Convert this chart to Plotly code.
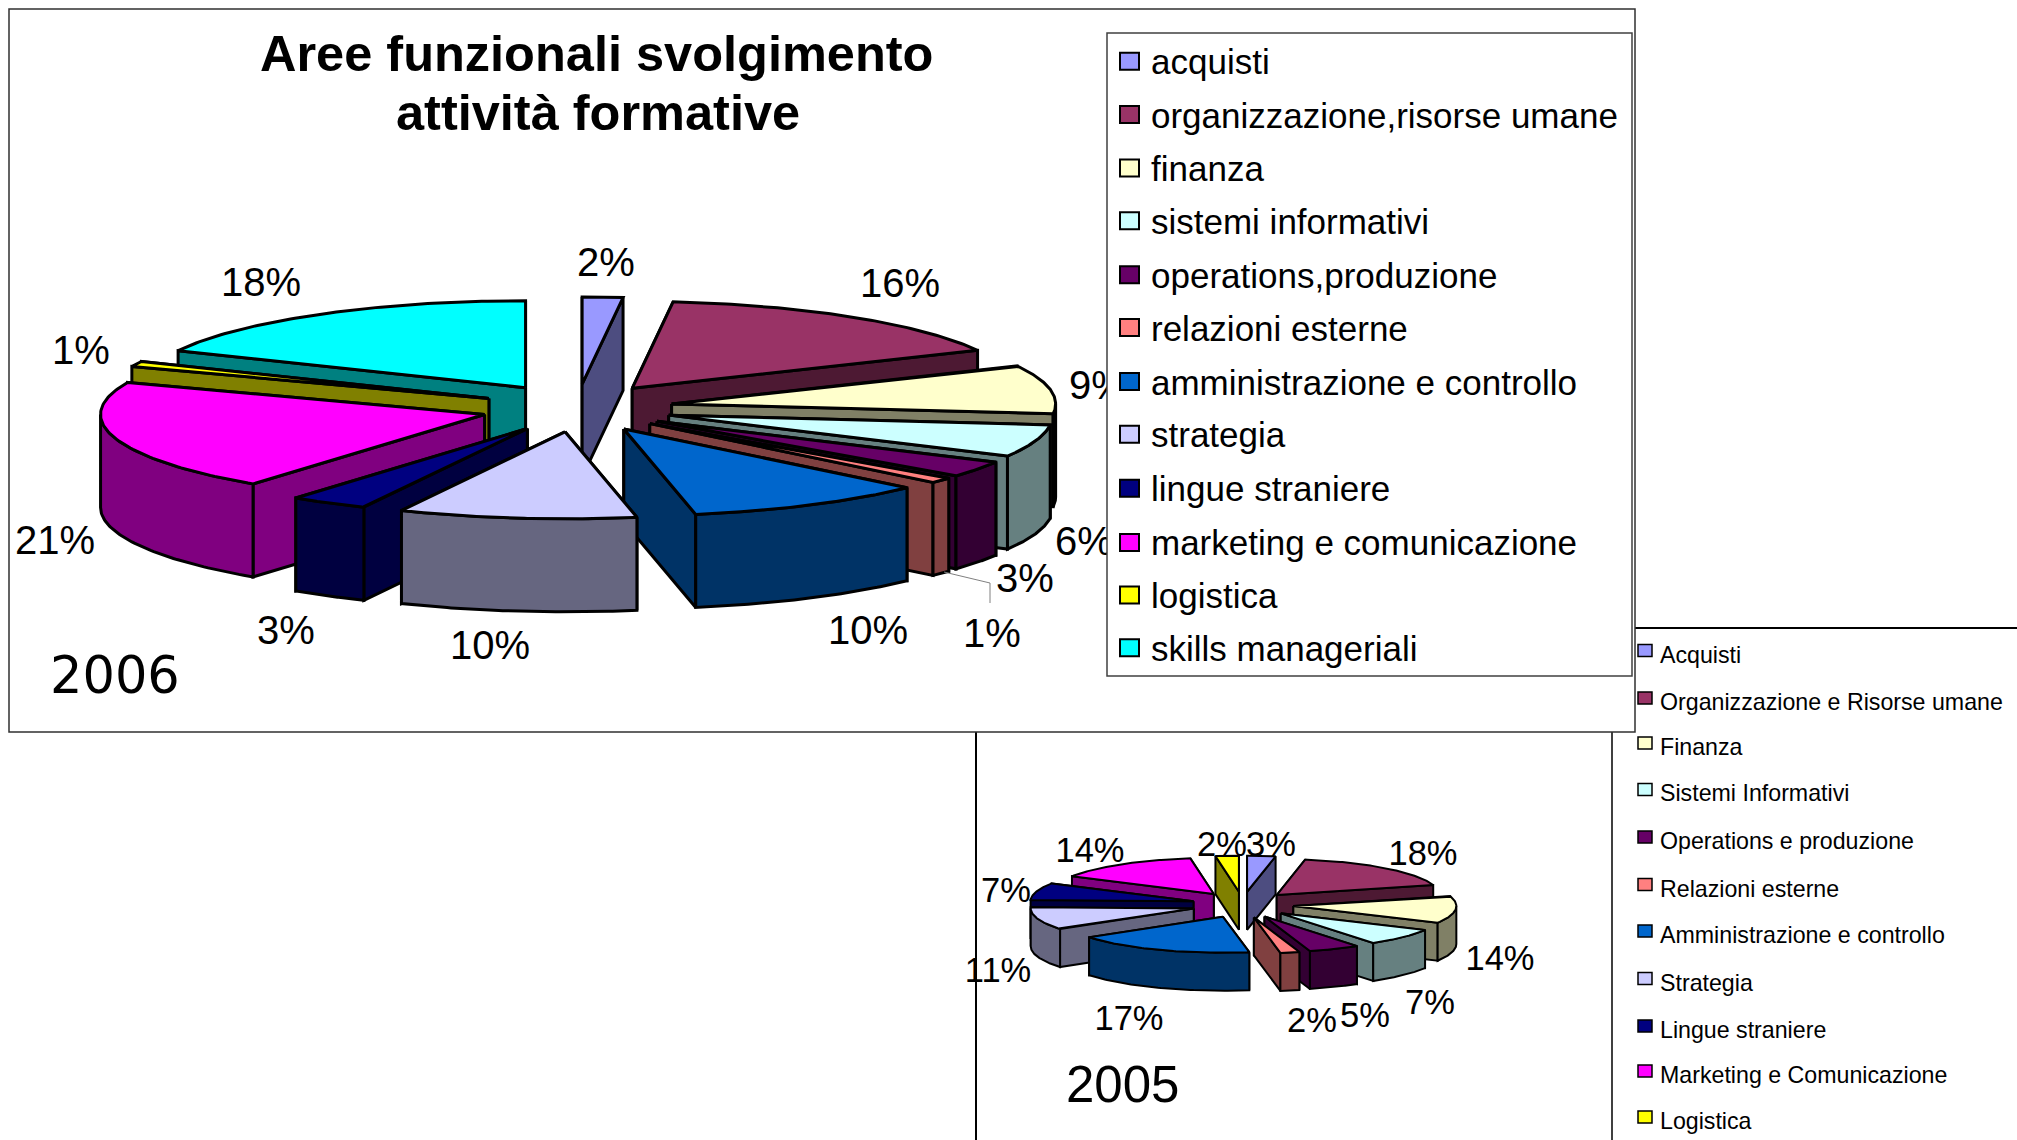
import numpy as np
import plotly.graph_objects as go

# ---- data ----
legend_2006 = ["acquisti", "organizzazione,risorse umane", "finanza", "sistemi informativi",
               "operations,produzione", "relazioni esterne", "amministrazione e controllo",
               "strategia", "lingue straniere", "marketing e comunicazione", "logistica",
               "skills manageriali"]
labels_2006 = [2, 16, 9, 6, 3, 1, 10, 10, 3, 21, 1, 18]
# share of the circle each slice actually occupies in the drawing (labels are rounded)
drawn_2006 = [1.7, 16.1, 9.0, 6.0, 3.0, 1.0, 10.2, 10.0, 3.3, 20.7, 1.0, 18.0]

legend_2005 = ["Acquisti", "Organizzazione e Risorse umane", "Finanza", "Sistemi Informativi",
               "Operations e produzione", "Relazioni esterne", "Amministrazione e controllo",
               "Strategia", "Lingue straniere", "Marketing e Comunicazione", "Logistica"]
labels_2005 = [3, 18, 14, 7, 5, 2, 17, 11, 7, 14, 2]
drawn_2005 = [2.8, 17.7, 12.2, 7.7, 5.1, 1.9, 17.9, 10.2, 7.7, 14.5, 2.3]

top_colors = ["#9999FF", "#993366", "#FFFFCC", "#CCFFFF", "#660066", "#FF8080",
              "#0066CC", "#CCCCFF", "#000080", "#FF00FF", "#FFFF00", "#00FFFF"]
side_colors = ["#4D4D80", "#4D1933", "#808066", "#668080", "#330033", "#804040",
               "#003366", "#666680", "#000040", "#800080", "#808000", "#008080"]

# ---- layout constants ----
W, H = 2017, 1140
pie_2006 = dict(cx=577, cy=408, rx=384, ry=87, depth=93, ex=96, ey=24, lw=3)
pie_2005 = dict(cx=1242.6, cy=904.7, rx=163, ry=36, depth=38, ex=51, ey=13, lw=2)
label_xy_2006 = [(606, 262), (900, 283), (1098, 385), (1084, 541), (1025, 578), (992, 633),
                 (868, 630), (490, 645), (286, 630), (55, 540), (81, 350), (261, 282)]
label_xy_2005 = [(1271, 844), (1423, 853), (1500, 958), (1430, 1002), (1365, 1015), (1312, 1020),
                 (1129, 1018), (998, 970), (1006, 890), (1090, 850), (1222, 844)]
LABEL_DY = 3.5

fig = go.Figure()


def poly(xs, ys, fill, lw):
    fig.add_trace(go.Scatter(x=list(xs) + [xs[0]], y=list(ys) + [ys[0]], mode="lines", fill="toself",
                             fillcolor=fill, line=dict(color="#000000", width=lw),
                             hoverinfo="skip", showlegend=False))


def draw_pie(shares, p):
    shares = np.asarray(shares, float)
    edges = np.concatenate([[0], np.cumsum(shares)]) / shares.sum() * 2 * np.pi
    mids = (edges[:-1] + edges[1:]) / 2
    for i in np.argsort(-np.cos(mids)):  # back to front
        a0, a1, m = edges[i], edges[i + 1], mids[i]
        ax = p["cx"] + p["ex"] * np.sin(m)
        ay = p["cy"] - p["ey"] * np.cos(m)
        px = lambda t: ax + p["rx"] * np.sin(t)
        py = lambda t: ay - p["ry"] * np.cos(t)
        d = p["depth"]
        faces = []
        for t in (a0, a1):
            fx = [ax, px(t), px(t), ax]
            fy = [ay, py(t), py(t) + d, ay + d]
            faces.append((np.mean(fy), fx, fy))
        lo, hi = max(a0, np.pi / 2), min(a1, 1.5 * np.pi)
        if hi > lo:
            t = np.linspace(lo, hi, 60)
            fx = np.concatenate([px(t), px(t)[::-1]])
            fy = np.concatenate([py(t), py(t)[::-1] + d])
            faces.append((np.mean(fy) + 1, list(fx), list(fy)))
        for _, fx, fy in sorted(faces, key=lambda f: f[0]):
            poly(fx, fy, side_colors[i], p["lw"])
        t = np.linspace(a0, a1, 80)
        poly([ax] + list(px(t)), [ay] + list(py(t)), top_colors[i], p["lw"])


# 2005 chart sits under the 2006 frame
draw_pie(drawn_2005, pie_2005)
fig.add_trace(go.Scatter(x=[p[0] for p in label_xy_2005], y=[p[1] + LABEL_DY for p in label_xy_2005], mode="text",
                         text=[f"{v}%" for v in labels_2005], textposition="middle center",
                         textfont=dict(family="Liberation Sans", size=34.5, color="#000000"),
                         hoverinfo="skip", showlegend=False))

draw_pie(drawn_2006, pie_2006)
fig.add_trace(go.Scatter(x=[p[0] for p in label_xy_2006], y=[p[1] + LABEL_DY for p in label_xy_2006], mode="text",
                         text=[f"{v}%" for v in labels_2006], textposition="middle center",
                         textfont=dict(family="Liberation Sans", size=40, color="#000000"),
                         hoverinfo="skip", showlegend=False))
# leader line of the small 2006 slice
fig.add_trace(go.Scatter(x=[944, 990, 990], y=[572, 583, 603], mode="lines",
                         line=dict(color="#808080", width=1), hoverinfo="skip", showlegend=False))

shapes = [
    dict(type="line", x0=976, x1=976, y0=732, y1=H, line=dict(color="#000", width=2), layer="below"),
    dict(type="line", x0=1612, x1=1612, y0=732, y1=H, line=dict(color="#000", width=1.5), layer="below"),
    dict(type="line", x0=1635, x1=W, y0=628, y1=628, line=dict(color="#000", width=2), layer="below"),
    dict(type="rect", x0=9, x1=1635, y0=9, y1=732, line=dict(color="#303030", width=1.5),
         fillcolor="#FFFFFF", layer="below"),
    dict(type="rect", x0=1107, x1=1632, y0=33, y1=676, line=dict(color="#404040", width=1.5),
         fillcolor="#FFFFFF", layer="above"),
]
ann = []


def text(x, y, s, size, family="Liberation Sans", anchor="left", bold=False):
    ann.append(dict(x=x, y=y, xref="x", yref="y", text=f"<b>{s}</b>" if bold else s, showarrow=False,
                    xanchor=anchor, yanchor="middle",
                    font=dict(family=family, size=size, color="#000000")))


text(596, 53, "Aree funzionali svolgimento", 50.5, anchor="center", bold=True)
text(598, 112, "attività formative", 50.5, anchor="center", bold=True)
text(115, 675, "2006", 51, family="DejaVu Sans", anchor="center")
text(1122, 1084, "2005", 51, anchor="center")

legend_y_2006 = [61.7, 115, 168.5, 221.3, 275.3, 328, 382, 434.8, 488.8, 542.9, 595.6, 648.3]
for i, (name, y) in enumerate(zip(legend_2006, legend_y_2006)):
    shapes.append(dict(type="rect", x0=1120, x1=1139, y0=y - 9, y1=y + 8, fillcolor=top_colors[i],
                       line=dict(color="#000", width=2), layer="above"))
    text(1148.5, y, name, 35)

legend_y_2005 = [654.5, 702, 747, 793.4, 841, 888.6, 935, 982.5, 1030, 1075, 1121]
for i, (name, y) in enumerate(zip(legend_2005, legend_y_2005)):
    shapes.append(dict(type="rect", x0=1638, x1=1652, y0=y - 10, y1=y + 2, fillcolor=top_colors[i],
                       line=dict(color="#000", width=1.5), layer="above"))
    text(1658, y, name, 23.2)

fig.update_layout(
    width=W, height=H, margin=dict(l=0, r=0, t=0, b=0), autosize=False,
    paper_bgcolor="#FFFFFF", plot_bgcolor="#FFFFFF", showlegend=False,
    xaxis=dict(range=[0, W], visible=False, fixedrange=True),
    yaxis=dict(range=[H, 0], visible=False, fixedrange=True),
    shapes=shapes, annotations=ann,
)
fig.write_html("out.html", config={"displayModeBar": False},
               post_script="document.body.style.margin='0';document.body.style.overflow='hidden';")
